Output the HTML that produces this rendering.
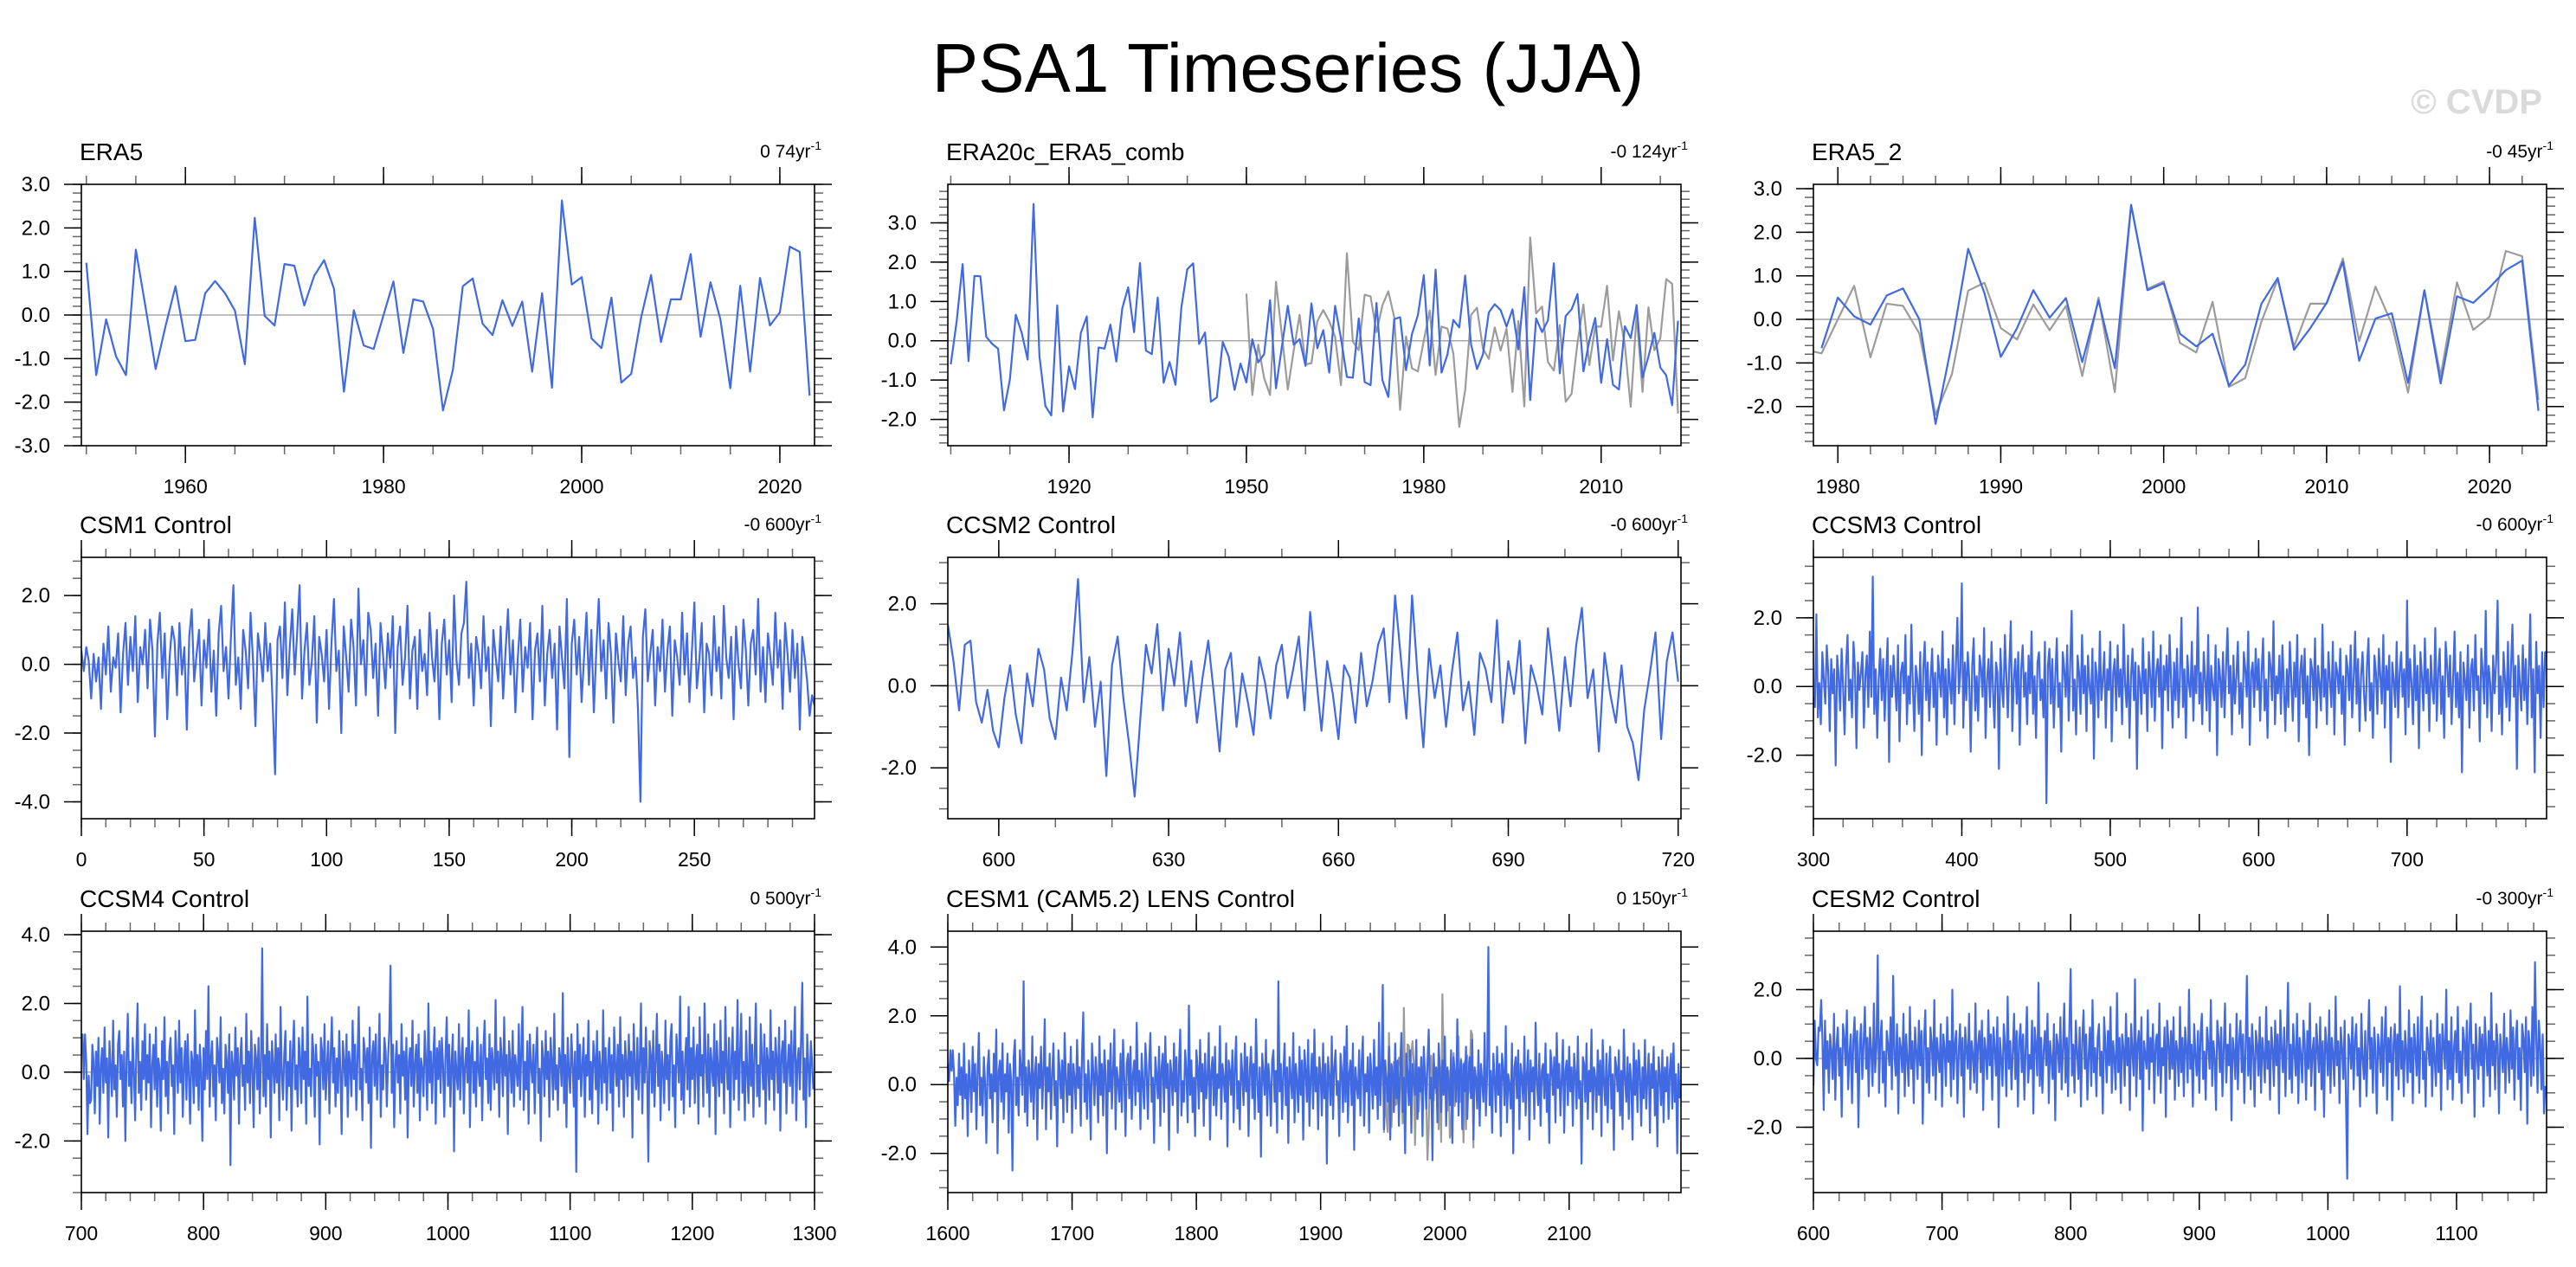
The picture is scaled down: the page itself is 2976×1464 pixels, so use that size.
<!DOCTYPE html>
<html>
<head>
<meta charset="utf-8">
<style>
html,body{margin:0;padding:0;background:#fff;}
svg{display:block;}
text{font-family:"Liberation Sans",Arial,sans-serif;}
</style>
</head>
<body>
<svg id="chart" xmlns="http://www.w3.org/2000/svg" width="2976" height="1464" viewBox="0 0 2976 1464">
<rect x="0" y="0" width="2976" height="1464" fill="#ffffff"/>
<text x="1488" y="106" text-anchor="middle" font-size="80" fill="#000">PSA1 Timeseries (JJA)</text>
<text x="2937" y="131" text-anchor="end" font-size="40" font-weight="bold" fill="#dadada">© CVDP</text>
<g id="panels"></g>
</svg>
<script>
// ---- data ----
const era5Start = 1950;
const era5Values = [1.2,-1.38,-0.1,-0.95,-1.38,1.5,0.15,-1.24,-0.25,0.66,-0.6,-0.57,0.5,0.78,0.5,0.1,-1.13,2.23,-0.02,-0.24,1.17,1.13,0.22,0.9,1.26,0.6,-1.76,0.11,-0.7,-0.78,0.0,0.77,-0.87,0.36,0.31,-0.32,-2.19,-1.26,0.66,0.84,-0.2,-0.46,0.34,-0.25,0.31,-1.3,0.5,-1.67,2.63,0.7,0.87,-0.54,-0.76,0.4,-1.55,-1.35,-0.05,0.92,-0.62,0.36,0.36,1.4,-0.5,0.75,-0.1,-1.68,0.67,-1.3,0.85,-0.24,0.06,1.57,1.45,-1.85];

const era20cStart = 1900;
const era20cValues = [-0.6,0.5,1.95,-0.52,1.65,1.64,0.1,-0.08,-0.2,-1.77,-0.98,0.66,0.2,-0.48,3.48,-0.4,-1.66,-1.9,0.9,-1.8,-0.65,-1.23,0.2,0.62,-1.95,-0.17,-0.2,0.41,-0.53,0.82,1.36,0.22,1.98,-0.25,-0.34,1.1,-1.07,-0.54,-1.12,0.85,1.82,1.97,-0.08,0.21,-1.55,-1.44,-0.03,-0.4,-1.25,-0.58,-1.06,0.04,-0.55,-0.34,1.03,-1.21,-0.15,0.89,-0.1,0.04,-0.64,0.95,-0.19,0.27,-0.81,0.89,0.05,-0.92,-0.94,0.57,-1.05,-1.13,0.96,-1.0,-1.43,0.55,0.6,-0.75,0.17,0.65,1.67,-0.63,1.81,-0.81,-0.35,0.53,0.34,1.66,-0.1,-0.72,-0.35,0.72,0.93,0.78,0.36,0.8,-0.22,1.36,-1.51,0.57,0.22,0.52,1.97,-0.83,0.63,0.8,1.19,-0.78,0.0,0.58,-1.07,0.04,-1.12,-1.24,0.37,0.07,0.91,-0.93,-0.4,0.2,-0.68,-0.88,-1.64,0.51];

const era5b2Start = 1979;
const era5b2Values = [-0.66,0.5,0.07,-0.12,0.55,0.71,0.0,-2.4,-0.55,1.62,0.6,-0.86,-0.2,0.67,0.04,0.49,-0.98,0.44,-1.12,2.63,0.67,0.83,-0.33,-0.62,-0.33,-1.52,-1.04,0.36,0.95,-0.7,-0.2,0.38,1.32,-0.95,0.02,0.14,-1.46,0.67,-1.47,0.53,0.38,0.73,1.13,1.35,-2.1];

const csm1Start = 0;
const csm1Values = [0.4,-0.2,0.5,0.1,-1.0,0.3,-0.5,0.2,-1.3,0.6,-0.3,1.1,-0.8,0.2,-0.1,0.9,-1.4,0.3,1.2,-0.6,
0.8,-0.2,1.4,-1.1,0.5,0.0,1.0,-0.7,1.3,0.4,-2.1,0.6,1.5,-0.4,0.9,-1.6,0.2,1.1,0.7,-0.9,
1.2,-0.3,0.5,-1.9,0.8,1.6,-0.5,0.3,1.0,-1.2,0.7,-0.1,1.3,-0.8,0.4,-1.5,0.9,1.7,-0.2,0.5,
-1.0,0.8,2.3,-0.6,0.2,-1.3,1.0,0.4,-0.7,1.5,0.1,-1.8,0.9,0.3,-0.5,1.2,-0.2,0.6,-1.1,-3.2,
0.7,1.1,-0.4,1.8,-0.9,0.5,1.6,-0.3,0.9,2.3,-1.0,0.4,1.2,-0.6,0.1,1.4,-1.7,0.8,0.3,-0.5,
1.0,-1.3,0.6,1.9,-0.2,0.4,-2.0,1.1,0.2,-0.8,1.3,0.5,-1.2,2.2,0.0,0.7,-0.9,1.5,1.0,-0.4,
0.6,-1.5,1.2,0.3,-0.7,0.9,-0.1,1.4,-2.0,0.5,1.1,-0.6,0.2,1.7,-1.0,0.4,0.8,-1.3,1.0,-0.2,
0.3,-0.9,1.5,0.2,-0.5,1.0,-1.6,0.6,1.3,-0.3,0.7,-1.1,2.0,0.1,-0.6,0.9,1.2,2.4,-0.4,0.6,
-1.2,0.8,0.3,-0.7,1.4,-0.2,0.5,-1.8,1.0,0.2,-0.5,1.1,-1.0,0.4,1.6,-0.3,0.7,-1.4,0.2,1.3,
-0.8,0.5,-0.1,1.2,-1.6,0.4,0.9,-0.5,1.7,-1.2,0.3,1.0,-0.4,0.6,-1.9,1.1,0.2,-0.7,1.9,-2.7,
0.6,1.3,-0.3,0.8,-1.1,0.2,1.5,-0.6,1.0,-1.4,0.4,1.9,-0.2,0.7,-1.0,1.2,0.3,-1.7,0.9,0.1,
-0.5,1.4,-0.9,0.6,1.1,-0.4,0.2,-1.3,-4.0,0.8,1.6,-0.5,0.3,1.0,-1.2,0.5,-0.2,1.3,-0.8,0.4,
1.1,-1.5,0.7,0.2,-0.6,1.5,-0.3,0.9,-1.1,0.4,1.8,-0.7,0.1,1.2,-1.4,0.6,0.3,-0.9,1.4,-0.2,
0.5,-1.0,1.7,0.2,-0.4,0.8,-1.6,1.1,0.0,-0.7,1.3,0.4,-1.2,0.6,1.0,-0.3,1.9,-0.8,0.5,-1.1,
0.9,0.2,-0.6,1.5,-0.1,0.7,-1.3,1.2,0.3,-0.8,1.0,-0.4,0.6,-1.9,0.8,0.2,-0.5,-1.5,-0.9,-1.2];

const ccsm2Start = 591;
const ccsm2Values = [1.5,0.6,-0.6,1.0,1.1,-0.4,-0.9,-0.1,-1.1,-1.5,-0.3,0.5,-0.7,-1.4,0.3,-0.5,0.9,0.4,-0.8,-1.3,
0.2,-0.6,0.8,2.6,-0.4,0.7,-1.0,0.1,-2.2,0.5,1.2,-0.3,-1.4,-2.7,-0.8,1.0,0.3,1.5,-0.6,0.9,
0.0,1.3,-0.5,0.6,-0.9,0.2,1.1,-0.2,-1.6,0.4,0.8,-1.0,0.3,-0.4,-1.2,0.7,0.1,-0.8,0.5,1.0,
-0.3,0.4,1.2,-0.6,1.8,0.3,-1.1,0.6,-0.2,-1.3,0.5,0.2,-0.9,0.8,-0.5,0.1,1.0,1.4,-0.4,2.2,
0.7,-0.8,2.2,0.2,-1.5,0.9,-0.3,0.5,-1.0,0.3,1.3,-0.6,0.1,-1.2,0.8,0.4,-0.4,1.6,-0.9,0.6,
-0.2,1.1,-1.4,0.5,0.0,-0.7,1.4,0.2,-1.1,0.7,-0.5,1.0,1.9,-0.3,0.4,-1.6,0.8,-0.2,-0.9,0.5,
-1.0,-1.4,-2.3,-0.6,0.3,1.3,-1.3,0.6,1.3,0.1];

const ccsm3Start = 300;
const ccsm3Values = [-0.3,-0.6,2.1,-0.9,0.1,-1.1,1.0,0.2,-0.5,1.2,0.4,-1.3,0.8,-0.2,0.5,-2.3,0.9,0.3,-0.7,1.1,
0.0,-1.4,0.6,1.5,-0.4,0.2,-0.9,1.3,0.5,-1.8,0.7,-0.1,0.4,1.0,-1.2,0.3,0.9,-0.6,1.6,-0.3,
3.2,-0.8,0.5,-1.5,0.2,1.1,-0.4,0.8,-1.0,0.3,1.4,-2.2,0.6,-0.3,0.9,0.1,-0.7,1.2,-1.6,0.4,
0.7,-0.2,1.5,-1.1,0.3,-0.5,1.8,0.0,-1.3,0.6,0.2,-0.8,1.0,-2.0,0.5,1.3,-0.4,0.7,-1.0,0.2,
1.1,-0.6,0.4,-1.7,0.9,0.3,-0.3,1.6,-0.9,0.5,-1.4,0.8,0.1,-0.5,1.2,-1.1,0.6,2.0,-0.2,0.4,
3.0,-1.2,0.7,-0.4,1.0,0.2,-1.9,0.6,1.4,-0.7,0.3,-1.0,0.9,0.5,-0.3,1.7,-1.5,0.2,0.8,-0.6,
1.3,-0.1,-1.2,0.7,0.4,-2.4,1.1,0.0,-0.6,1.5,0.3,-0.9,0.6,1.9,-1.3,0.2,0.8,-0.5,1.0,-1.7,
0.5,1.2,-0.3,0.4,-1.1,0.9,-0.2,1.6,-0.8,0.3,-1.5,0.7,1.0,-0.4,0.2,-0.9,1.3,-3.4,0.6,1.1,
-0.5,0.8,-1.2,0.3,1.4,-0.6,0.1,-1.9,1.0,0.5,-0.3,1.2,-1.0,0.6,2.2,-0.7,0.2,-1.4,0.9,0.4,
-0.8,1.5,-0.2,0.6,-1.3,0.9,0.0,-0.5,1.1,-2.1,0.7,0.3,-0.9,1.6,-0.4,0.2,1.0,-1.2,0.5,-0.1,
1.3,-1.6,0.4,0.8,-0.7,1.2,-0.3,0.5,-1.1,1.8,0.1,-0.6,0.9,-1.5,0.3,1.1,-0.4,0.7,-2.4,0.6,
0.2,-0.8,1.4,-0.2,0.5,-1.3,1.0,0.3,-0.6,1.6,-1.0,0.4,0.8,-0.3,1.2,-1.8,0.6,-0.1,0.9,-0.7,
1.5,0.2,-1.2,0.7,-0.4,1.1,-0.9,0.3,2.0,-0.6,0.5,-1.5,0.9,0.1,-0.3,1.3,-1.0,0.6,-0.2,2.3,
-0.5,0.4,-1.1,1.0,0.2,-0.7,1.5,-1.3,0.6,0.0,-0.4,1.2,-2.0,0.8,0.3,-0.6,1.0,-0.9,0.5,1.7,
-0.2,0.6,-1.4,0.9,-0.5,0.3,1.3,-0.8,0.1,-1.2,1.0,0.5,-0.3,1.6,-1.7,0.4,0.7,-0.6,1.1,-0.1,
0.8,-1.0,0.4,1.4,-0.7,0.2,-1.5,1.0,0.6,-0.4,1.9,-1.1,0.3,-0.2,0.9,-0.8,1.2,0.0,-1.3,0.5,
-0.6,1.3,0.2,-1.0,0.7,-0.3,1.5,-1.6,0.4,0.9,-0.5,1.1,-0.9,0.3,-2.0,0.8,0.5,-0.4,1.4,-1.2,
0.6,0.1,-0.7,1.8,-0.3,0.5,-1.1,1.0,0.2,-0.6,1.3,-1.4,0.7,0.4,-0.2,1.1,-0.8,0.3,-1.7,0.9,
0.5,-0.4,1.2,-0.9,0.2,1.6,-0.5,0.8,-1.3,0.3,1.0,-0.2,-1.0,0.6,1.4,-0.7,0.1,-1.5,0.9,0.4,
-0.8,1.1,0.3,-0.5,1.5,-1.2,0.6,-0.1,0.9,-2.2,0.7,0.2,-0.6,1.3,-0.9,0.4,1.0,-0.3,0.5,-1.4,
2.5,-0.6,0.8,0.1,-1.1,1.2,-0.4,0.6,-1.8,1.0,0.3,-0.7,1.4,-0.2,0.5,-1.3,0.9,0.0,-0.5,1.7,
-1.0,0.4,1.1,-0.8,0.3,-1.5,1.3,0.6,-0.3,0.9,-1.1,0.2,1.6,-0.6,0.4,-0.9,1.0,-2.5,0.7,0.2,
-0.4,1.2,-1.2,0.5,0.8,-0.7,1.5,-0.1,0.3,-1.6,1.1,0.4,-0.5,2.2,-0.9,0.6,0.1,-1.3,0.9,-0.2,
0.7,2.5,-0.8,0.3,-1.4,1.0,0.2,-0.6,1.3,-1.0,0.5,1.8,-0.3,0.6,-2.4,0.9,0.1,-0.7,1.2,-0.4,
0.8,-1.1,0.4,2.1,-0.9,0.5,-2.5,1.3,-0.2,0.6,-1.5,1.0,-0.6,1.0,1.0];

const ccsm4Start = 700;
const ccsm4Values = [0.5,1.1,-0.2,1.1,0.3,-1.8,-0.1,-0.9,-0.8,0.8,0.3,-1.2,0.6,-0.4,1.0,-1.5,0.2,0.7,-0.6,1.3,
-0.3,0.4,-1.9,0.9,0.1,-0.7,1.5,-0.5,0.2,-1.3,0.8,1.2,-0.2,0.5,-1.0,0.6,-2.0,0.4,1.7,-0.4,
0.3,-0.9,1.0,0.0,-1.4,0.7,2.0,-0.6,0.3,-1.1,0.9,-0.2,1.4,-0.8,0.5,-0.3,1.1,-1.6,0.2,0.8,
-0.5,1.3,-1.0,0.4,0.1,-1.7,0.9,-0.2,1.6,-0.7,0.3,-1.2,0.6,1.0,-0.4,0.2,-1.8,1.2,0.4,-0.6,
1.5,-0.3,0.7,-1.3,0.2,0.9,-0.8,1.1,-0.1,-1.5,0.6,0.3,-0.9,1.8,-0.4,0.5,-1.1,0.8,0.0,-2.0,
0.7,-0.5,1.2,-0.2,2.5,-1.0,0.4,0.9,-0.7,0.2,-1.4,1.0,0.5,-0.3,1.6,-0.9,0.1,-1.2,0.8,0.3,
-0.6,1.1,-2.7,0.6,0.2,-0.8,1.3,-0.1,0.7,-1.5,0.4,1.0,-0.4,0.2,-1.1,1.7,-0.3,0.6,-0.9,1.2,
0.1,-1.6,0.8,0.4,-0.5,1.0,-1.2,0.3,3.6,-0.7,0.5,-1.0,1.4,-0.2,0.6,-1.9,0.9,0.2,-0.6,1.1,
-0.3,0.7,-1.4,1.9,0.0,-0.8,0.5,1.2,-1.1,0.3,-0.4,0.9,-1.7,0.6,1.5,-0.5,0.2,-1.0,1.0,0.4,
-0.9,1.3,-0.2,0.6,-1.5,2.2,-0.4,0.1,-0.7,1.1,0.5,-1.3,0.8,-0.1,0.3,-2.1,1.0,0.6,-0.5,1.4,
-0.8,0.2,0.9,-1.2,0.5,1.6,-0.3,0.7,-1.0,0.4,-0.6,1.2,0.0,-1.8,0.9,0.3,-0.4,1.1,-1.3,0.6,
0.2,-0.7,1.5,-0.2,0.8,-1.1,0.4,1.9,-0.5,0.1,-1.4,1.0,0.6,-0.3,0.7,-0.9,1.3,-2.2,0.5,0.9,
-0.4,1.1,-0.8,0.3,1.7,-1.3,0.2,-0.5,1.0,0.6,-1.0,0.4,1.2,3.1,-0.6,0.8,-1.6,0.2,0.9,-0.3,
0.5,-1.2,1.4,-0.1,0.6,-0.8,1.0,-1.9,0.3,0.7,-0.4,1.5,-1.0,0.2,0.8,-0.6,1.1,-1.4,0.4,0.1,
-0.7,1.2,0.3,-1.1,2.0,-0.3,0.6,-0.9,0.4,1.3,-1.5,0.7,-0.2,0.9,-0.6,1.0,0.2,-1.3,0.5,1.6,
-0.4,0.8,-1.0,0.3,1.1,-2.3,0.6,0.0,-0.5,1.4,-0.8,0.4,1.0,-1.2,0.2,0.7,-0.3,1.8,-1.6,0.5,
0.9,-0.6,0.3,-1.0,1.3,0.1,-0.4,0.8,-1.4,0.6,1.5,-0.2,0.4,-0.9,1.1,-1.1,0.7,0.2,-0.5,2.1,
-0.3,0.6,-1.3,1.0,0.4,-0.7,1.6,-0.1,0.5,-1.8,0.9,0.3,-0.6,1.2,-1.0,0.5,0.1,-0.4,1.4,-0.8,
0.6,1.9,-1.1,0.3,-0.5,0.9,-1.5,1.1,0.2,-0.3,0.8,-1.2,0.5,1.3,-0.6,0.1,-2.0,0.9,0.4,-0.7,
1.2,-0.2,0.6,-1.3,1.0,0.3,-0.8,1.7,-0.5,0.2,-1.1,0.7,0.4,-0.4,2.3,-0.9,0.5,-1.6,1.0,0.0,
-0.6,1.1,0.3,-1.0,0.6,-2.9,1.4,-0.2,0.8,-0.7,0.2,1.0,-1.3,0.5,-0.1,1.5,-0.8,0.3,-1.2,0.9,
0.4,-0.5,1.2,-1.5,0.6,0.1,-0.9,1.8,-0.3,0.7,-1.1,0.3,1.0,-0.6,0.5,-1.7,1.3,0.2,-0.4,0.8,
-1.0,1.6,-0.2,0.5,-1.3,0.9,0.3,-0.7,1.1,-0.1,0.6,-1.9,1.4,0.2,-0.5,1.0,-0.8,0.4,2.0,-1.2,
0.7,-0.3,1.3,0.0,-2.6,0.9,0.5,-0.6,1.2,-1.0,0.3,1.7,-0.4,0.8,-1.4,0.6,0.1,-0.9,1.5,-0.2,
0.5,-1.1,0.9,1.4,-0.7,0.2,-1.6,1.1,0.4,-0.3,2.2,-0.8,0.6,-1.2,0.3,1.0,-0.5,1.9,-1.0,0.7,
-0.2,1.3,-0.9,0.4,0.8,-1.5,1.6,-0.1,0.5,-1.0,2.0,0.3,-0.6,1.1,-1.3,0.7,0.2,-0.4,1.4,-1.8,
0.9,0.1,-0.7,1.5,-0.3,0.6,-1.2,1.9,0.2,-0.5,1.0,-1.6,0.4,1.3,-0.8,0.6,-0.2,2.1,-1.1,0.5,
1.7,-0.6,0.3,-1.4,1.2,0.0,-0.9,1.6,-0.4,0.8,-1.3,0.5,2.0,-0.7,0.2,-1.0,1.4,0.4,-0.5,1.1,
-1.5,0.7,0.3,-0.8,1.8,-0.2,0.6,-1.1,1.0,0.4,-0.6,1.3,-1.7,0.5,0.9,-0.3,1.5,-1.2,0.2,0.8,
-0.4,1.2,-0.9,0.6,1.9,-1.4,0.3,0.7,-0.5,1.0,2.6,-0.8,0.4,-1.6,1.1,0.2,-0.7,0.9,0.3,-0.5];

const cesm1Start = 1600;
const cesm1Values = [0.6,0.1,1.0,0.4,1.0,0.3,-1.2,0.2,-0.6,0.9,-0.3,0.5,-1.0,1.2,-0.4,0.3,-1.5,0.7,0.1,-0.8,
1.1,-0.2,0.6,-1.3,0.4,1.5,-0.6,0.2,-0.9,0.8,0.0,-1.7,0.5,1.0,-0.4,0.3,-1.1,0.9,-0.2,1.6,
-2.0,0.4,0.7,-0.5,1.2,-1.0,0.3,-0.2,0.9,-1.4,0.6,0.1,-2.5,0.8,1.3,-0.6,0.2,-0.9,1.0,0.4,
-0.3,3.0,-0.8,0.5,-1.2,0.7,0.2,-0.5,1.4,-1.0,0.3,0.8,-1.6,0.6,-0.1,1.1,-0.7,0.4,1.9,-1.3,
0.5,-0.2,0.9,-1.0,0.3,1.2,-0.6,0.1,-1.8,1.0,0.4,-0.4,0.7,-1.1,1.5,0.2,-0.8,0.6,-0.3,1.1,
-1.4,0.6,0.2,-0.7,1.3,-0.1,0.5,-1.2,0.9,2.1,-0.5,0.3,-1.0,0.7,0.0,-1.6,1.2,0.4,-0.6,0.8,
0.2,-1.1,1.4,-0.3,0.6,-0.9,1.0,0.3,-2.0,0.7,-0.2,1.2,-0.7,0.4,1.6,-1.3,0.5,0.1,-0.5,0.9,
-0.8,1.3,0.2,-1.5,0.6,0.9,-0.4,1.1,-1.0,0.3,0.7,-0.6,1.8,-0.2,0.4,-1.3,0.9,0.0,-0.7,1.2,
0.4,-1.0,0.6,1.5,-0.5,0.2,-1.7,0.8,0.3,-0.4,1.1,-1.2,0.5,0.9,-0.8,1.4,-0.1,0.6,-1.9,0.7,
0.3,-0.6,1.2,-0.2,0.8,-1.4,0.5,1.6,-0.9,0.1,-0.5,1.0,0.4,-1.1,2.3,-0.3,0.7,-0.8,0.2,-1.5,
1.0,0.5,-0.7,1.3,-0.2,0.6,-1.2,0.9,-0.4,0.2,1.5,-1.6,0.4,0.8,-0.6,1.1,-0.9,0.3,-0.1,1.7,
-1.0,0.6,0.2,-0.5,1.2,-1.8,0.7,0.4,-0.3,1.0,-1.1,0.5,1.4,-0.7,0.1,-1.3,0.9,0.3,-0.6,1.2,
-0.2,0.8,-1.5,0.4,1.1,-0.4,0.6,-1.0,1.9,0.2,-0.8,0.5,-2.1,0.9,0.3,-0.3,1.3,-0.9,0.6,0.0,
-1.2,0.7,1.0,-0.5,0.4,-1.4,3.0,-0.2,0.6,-1.0,0.3,1.2,-0.6,0.5,-1.7,0.8,0.2,-0.4,1.5,-1.1,
0.6,0.1,-0.8,1.1,-0.3,0.7,-1.6,1.0,0.4,-0.5,1.3,-1.2,0.2,0.9,-0.7,1.6,-0.2,0.5,-1.3,0.8,
0.3,-0.9,1.2,-0.4,0.6,-2.3,0.8,0.2,-0.6,1.4,-1.0,0.5,1.0,-0.3,0.1,-1.5,0.9,0.4,-0.8,1.1,
-0.5,1.7,-1.1,0.3,0.7,-0.6,1.2,-1.9,0.5,0.0,-0.4,1.0,-0.9,0.6,1.4,-1.2,0.3,-0.2,0.8,-1.4,
0.9,0.2,-0.7,1.3,-0.3,0.5,-1.0,1.8,-0.6,0.4,2.9,-1.3,0.7,0.1,-0.5,1.1,-1.6,0.6,0.3,-0.8,
1.2,-0.4,0.7,-1.2,0.5,1.5,-0.8,0.2,-2.0,0.9,0.4,-0.6,1.0,-1.4,0.6,0.1,-0.3,1.3,-1.0,0.5,
-0.2,0.8,-1.5,1.1,0.3,-0.7,0.6,1.6,-0.4,0.2,-2.2,0.9,-0.1,0.5,-1.1,1.2,0.4,-0.8,0.7,-0.3,
1.4,-1.2,0.5,0.0,-0.6,1.0,-1.7,0.8,0.3,-0.5,1.9,-0.9,0.4,0.7,-1.3,0.6,-0.2,1.1,-1.0,0.3,
0.8,-0.4,1.3,-1.6,0.5,0.2,-0.7,1.0,-1.2,0.6,0.1,-0.5,1.5,-0.9,0.3,4.0,-0.6,0.4,-1.4,0.9,
0.2,-0.8,1.1,-0.3,0.6,-1.5,0.9,0.4,-0.6,1.7,-1.1,0.3,0.0,-0.7,1.2,-2.0,0.5,0.8,-0.4,1.0,
-1.3,0.6,0.2,-0.5,1.4,-0.9,0.3,1.0,-1.6,0.7,-0.2,0.5,-1.0,1.8,0.1,-0.6,0.9,-1.2,0.4,0.6,
-0.4,1.2,-0.8,0.3,-1.7,1.0,0.5,-0.3,0.8,-1.1,1.5,-0.1,0.6,-0.9,0.2,1.3,-1.4,0.4,0.7,-0.6,
1.1,-0.2,0.5,-1.2,0.9,0.3,-0.7,1.4,-0.4,0.1,-2.3,0.8,0.6,-0.5,1.2,-1.0,0.4,-0.2,1.6,-1.3,
0.5,0.2,-0.8,1.0,-0.3,0.7,-1.5,1.3,0.1,-0.6,0.9,-1.1,0.4,1.1,-0.7,0.3,-1.9,0.8,0.5,-0.2,
1.0,-0.9,0.4,-1.3,1.6,0.2,-0.5,0.8,-1.0,0.6,0.1,-1.6,1.2,-0.3,0.7,-0.8,1.0,0.3,-1.2,0.5,
-0.4,1.3,-0.7,0.2,0.9,-1.4,0.6,-0.1,1.1,-0.9,0.4,-1.8,0.8,0.3,-0.6,1.0,-1.1,0.5,-0.2,0.8,
-1.0,0.4,0.9,-0.7,1.2,-0.5,0.3,-2.0,0.6,-0.4];

const cesm2Start = 600;
const cesm2Values = [-0.8,1.1,0.0,-0.2,0.9,0.8,1.7,0.6,-1.5,1.1,-0.3,0.5,-1.0,0.7,0.2,-0.6,1.3,-1.2,0.4,0.9,
-0.5,0.3,-1.7,1.0,0.6,-0.2,1.4,-0.9,0.1,0.7,-1.3,0.5,1.2,-0.4,0.8,-2.0,0.3,1.0,-0.6,0.4,
1.5,-0.3,0.6,-1.1,0.9,0.2,-0.8,1.6,-0.4,0.3,3.0,-1.0,0.5,1.1,-0.7,0.2,-1.4,0.8,0.4,-0.2,
1.2,-0.9,2.4,0.1,-0.5,1.0,-1.6,0.6,0.3,-0.4,1.3,-1.1,0.7,0.0,-0.8,1.5,-0.3,0.5,-1.3,0.9,
0.2,-0.6,1.1,-0.2,0.8,-1.9,0.5,1.4,-0.7,0.3,-1.0,0.9,0.4,-0.5,1.7,-1.2,0.6,0.1,-0.4,1.0,
-1.4,0.7,0.3,-0.8,1.2,-0.1,0.5,-1.1,2.0,-0.6,0.4,0.8,-1.3,0.2,1.0,-0.5,0.6,-1.7,0.9,0.3,
-0.3,1.3,-0.9,0.5,0.1,-0.7,1.6,-1.0,0.4,0.8,-0.4,1.1,-1.5,0.6,0.2,-0.6,1.4,-0.2,0.7,-1.2,
0.9,0.3,-0.5,1.2,-2.0,0.6,0.0,-0.8,1.0,0.4,-1.1,1.8,-0.3,0.5,-0.9,0.2,1.3,-0.6,0.8,-1.4,
0.5,1.0,-0.4,0.7,-1.2,0.3,1.5,-0.7,0.1,-0.3,1.1,-1.6,0.9,0.4,-0.5,2.2,-0.8,0.6,-1.0,0.2,
0.8,-0.2,1.3,-1.3,0.5,0.0,-0.6,1.0,-1.8,0.7,0.4,-0.4,1.2,-0.9,0.3,1.6,-0.7,0.6,-1.1,0.9,
2.6,-0.5,0.4,-1.0,1.1,0.2,-0.6,0.9,-1.4,0.5,1.4,-0.3,0.7,-1.2,0.1,0.9,-0.8,1.7,-0.4,0.3,
-1.1,0.6,1.0,-0.5,0.2,-1.6,1.2,0.4,-0.7,0.8,-0.2,1.5,-1.0,0.5,0.0,-0.9,1.9,-0.4,0.6,-1.3,
0.7,0.3,-0.8,1.3,-0.2,0.6,-1.5,1.0,0.2,-0.5,2.3,-1.1,0.4,0.8,-0.6,1.2,-2.1,0.5,0.1,-0.3,
1.4,-0.9,0.6,-0.1,1.0,-1.3,0.4,0.7,-0.5,1.6,-1.0,0.3,-0.2,0.9,-1.7,1.1,0.5,-0.6,0.8,-0.3,
1.2,-1.2,0.5,0.2,-0.8,1.5,-0.4,0.6,-1.1,0.9,0.3,-0.7,2.0,-0.3,0.4,-1.4,1.0,0.1,-0.5,0.8,
-1.0,0.7,1.3,-0.6,0.2,-1.2,0.9,0.4,-0.3,1.7,-0.8,0.5,0.0,-1.5,1.1,0.6,-0.4,0.9,-1.1,0.3,
1.6,-0.7,0.4,-0.2,1.0,-1.8,0.6,0.2,-0.6,1.3,-0.9,0.5,1.1,-0.4,0.7,-1.3,0.3,2.4,-0.5,0.6,
-0.9,1.0,0.2,-1.4,0.8,0.4,-0.5,1.2,-1.0,0.6,0.1,-0.7,1.5,-0.3,0.5,-1.2,0.9,0.3,-0.8,1.1,
-0.2,0.7,-1.6,1.4,0.3,-0.4,0.9,-1.1,0.5,2.2,-0.6,0.4,-1.0,1.0,0.2,-0.5,1.3,-1.3,0.6,0.1,
-0.7,1.1,0.4,-1.2,0.8,-0.3,1.6,-0.8,0.2,0.6,-1.5,1.0,0.3,-0.4,1.2,-0.9,0.5,-1.7,0.9,0.4,
-0.5,1.4,-1.0,0.6,0.1,-0.8,1.8,-0.2,0.5,-1.3,0.9,0.3,-0.6,1.1,-1.1,-3.5,0.7,0.4,-0.3,1.2,
-0.9,0.5,1.0,-0.5,0.3,-1.4,1.3,0.0,-0.6,0.8,-1.1,0.4,1.7,-0.3,0.6,-1.0,0.9,0.2,-1.6,0.7,
0.3,-0.4,1.2,-0.8,0.5,1.5,-1.2,0.6,-0.1,0.9,-1.8,0.4,1.0,-0.5,0.7,-0.9,2.1,-0.3,0.5,-1.1,
0.8,0.2,-0.7,1.4,-0.4,0.6,-1.3,1.0,0.3,-0.5,1.2,-1.0,0.5,1.8,-0.6,0.2,-1.4,0.9,0.4,-0.2,
1.1,-1.1,0.6,0.0,-0.8,1.3,-0.4,0.7,-1.5,1.0,0.4,-0.3,2.0,-0.9,0.5,-0.6,1.2,-1.2,0.3,0.8,
-0.4,1.5,-0.7,0.2,-1.3,0.9,0.5,-0.5,1.1,-1.0,0.6,1.6,-0.3,0.4,-1.7,1.0,0.1,-0.6,0.9,-0.2,
0.7,-1.4,1.2,0.3,-0.5,0.8,-1.1,1.9,-0.2,0.5,-0.9,1.0,0.4,-1.6,0.7,0.2,-0.4,1.3,-1.0,0.6,
0.1,-0.7,1.4,-0.3,0.9,-1.2,0.5,1.1,-0.6,0.3,-1.5,1.0,0.6,-0.4,1.2,-1.9,0.8,0.3,-0.8,1.5,
-0.5,2.8,0.6,-1.0,1.1,0.4,-0.9,0.7,-1.6,-0.8];

const panelTitles = ["ERA5","ERA20c_ERA5_comb","ERA5_2","CSM1 Control","CCSM2 Control","CCSM3 Control","CCSM4 Control","CESM1 (CAM5.2) LENS Control","CESM2 Control"];
const trendLabels = ["0 74yr","-0 124yr","-0 45yr","-0 600yr","-0 600yr","-0 600yr","0 500yr","0 150yr","-0 300yr"];

// ---- layout (not data) ----
const colX = [94, 1095, 2095];
const rowY = [213, 644, 1076];
const BW = 847, BH = 302;
const BLUE = "#4169e1", GRAY = "#9b9b9b";

const panels = [
 {name:"era5", blue:[era5Start, era5Values], gray:null, xr:[1949.5,2023.5], yr:[-3,3], xMaj:20, xMajStart:1960, xMin:5, yMaj:1, yMin:0.2},
 {name:"era20c-era5-comb", blue:[era20cStart, era20cValues], gray:[era5Start, era5Values], xr:[1899.5,2023.5], yr:[-2.67,3.98], xMaj:30, xMajStart:1920, xMin:10, yMaj:1, yMin:0.2},
 {name:"era5-2", blue:[era5b2Start, era5b2Values], gray:[era5Start, era5Values], xr:[1978.5,2023.5], yr:[-2.9,3.1], xMaj:10, xMajStart:1980, xMin:2, yMaj:1, yMin:0.2},
 {name:"csm1-control", blue:[csm1Start, csm1Values], gray:null, xr:[0,299], yr:[-4.49,3.11], xMaj:50, xMajStart:0, xMin:10, yMaj:2, yMin:0.5},
 {name:"ccsm2-control", blue:[ccsm2Start, ccsm2Values], gray:null, xr:[591,720.5], yr:[-3.24,3.13], xMaj:30, xMajStart:600, xMin:10, yMaj:2, yMin:0.5},
 {name:"ccsm3-control", blue:[ccsm3Start, ccsm3Values], gray:null, xr:[300,794], yr:[-3.85,3.76], xMaj:100, xMajStart:300, xMin:20, yMaj:2, yMin:0.5},
 {name:"ccsm4-control", blue:[ccsm4Start, ccsm4Values], gray:null, xr:[700,1300], yr:[-3.5,4.1], xMaj:100, xMajStart:700, xMin:20, yMaj:2, yMin:0.5},
 {name:"cesm1-lens-control", blue:[cesm1Start, cesm1Values], gray:[era5Start, era5Values], xr:[1600,2190], yr:[-3.14,4.46], xMaj:100, xMajStart:1600, xMin:20, yMaj:2, yMin:0.5},
 {name:"cesm2-control", blue:[cesm2Start, cesm2Values], gray:null, xr:[600,1170], yr:[-3.9,3.7], xMaj:100, xMajStart:600, xMin:20, yMaj:2, yMin:0.5}
];

const NS = "http://www.w3.org/2000/svg";
function mk(tag, attrs){ const e = document.createElementNS(NS, tag); for (const k in attrs) e.setAttribute(k, attrs[k]); return e; }
const root = document.getElementById("panels");
const defs = mk("defs", {});
root.appendChild(defs);

panels.forEach((p, i) => {
  const bx = colX[i % 3], by = rowY[Math.floor(i / 3)];
  const sx = v => bx + (v - p.xr[0]) / (p.xr[1] - p.xr[0]) * BW;
  const sy = v => by + BH - (v - p.yr[0]) / (p.yr[1] - p.yr[0]) * BH;
  const g = mk("g", {});
  
  
  root.appendChild(g);

  const cp = mk("clipPath", {id: "clip" + i});
  cp.appendChild(mk("rect", {x: bx, y: by, width: BW, height: BH}));
  defs.appendChild(cp);

  const t = mk("text", {x: bx - 2, y: by - 28, "font-size": 28, fill: "#000"});
  t.textContent = panelTitles[i];
  
  
  g.appendChild(t);
  const tr = mk("text", {x: bx + BW + 8, y: by - 31, "font-size": 21, fill: "#000", "text-anchor": "end"});
  tr.textContent = trendLabels[i];
  const sup = mk("tspan", {"font-size": 14, dy: -9});
  sup.textContent = "-1";
  tr.appendChild(sup);
  
  
  g.appendChild(tr);

  const tk = mk("g", {stroke: "#000", "stroke-width": 1.5});
  
  
  g.appendChild(tk);
  const eps = 1e-6;
  for (let v = Math.ceil(p.xr[0] / p.xMin - eps) * p.xMin; v <= p.xr[1] + eps; v += p.xMin) {
    const x = sx(v);
    tk.appendChild(mk("line", {x1: x, y1: by + BH, x2: x, y2: by + BH + 10, stroke: "#666"}));
    tk.appendChild(mk("line", {x1: x, y1: by, x2: x, y2: by - 10, stroke: "#666"}));
  }
  for (let v = p.xMajStart; v <= p.xr[1] + eps; v += p.xMaj) {
    const x = sx(v);
    tk.appendChild(mk("line", {x1: x, y1: by + BH, x2: x, y2: by + BH + 20}));
    tk.appendChild(mk("line", {x1: x, y1: by, x2: x, y2: by - 20}));
    const lb = mk("text", {x: x, y: by + BH + 55, "font-size": 23, "text-anchor": "middle", fill: "#000"});
    lb.textContent = String(Math.round(v));
    
    
    g.appendChild(lb);
  }
  for (let v = Math.ceil(p.yr[0] / p.yMin - eps) * p.yMin; v <= p.yr[1] + eps; v += p.yMin) {
    const y = sy(v);
    tk.appendChild(mk("line", {x1: bx, y1: y, x2: bx - 10, y2: y, stroke: "#666"}));
    tk.appendChild(mk("line", {x1: bx + BW, y1: y, x2: bx + BW + 10, y2: y, stroke: "#666"}));
  }
  for (let v = Math.ceil(p.yr[0] / p.yMaj - eps) * p.yMaj; v <= p.yr[1] + eps; v += p.yMaj) {
    const y = sy(v);
    tk.appendChild(mk("line", {x1: bx, y1: y, x2: bx - 20, y2: y}));
    tk.appendChild(mk("line", {x1: bx + BW, y1: y, x2: bx + BW + 20, y2: y}));
    const lb = mk("text", {x: bx - 36, y: y + 8, "font-size": 24, "text-anchor": "end", fill: "#000"});
    lb.textContent = (Math.abs(v) < 1e-9 ? 0 : v).toFixed(1);
    
    
    g.appendChild(lb);
  }

  const z = mk("line", {x1: bx, y1: sy(0), x2: bx + BW, y2: sy(0), stroke: "#a8a8a8", "stroke-width": 1.5});
  
  
  g.appendChild(z);

  const series = (arr, color, nm) => {
    const [start, vals] = arr;
    const pts = vals.map((v, k) => sx(start + k).toFixed(2) + "," + sy(v).toFixed(2)).join(" ");
    const pl = mk("polyline", {points: pts, fill: "none", stroke: color, "stroke-width": 2.2, "stroke-linejoin": "round", "clip-path": "url(#clip" + i + ")"});
    
    
    return pl;
  };
  if (p.gray) g.appendChild(series(p.gray, GRAY, 'observed-series-line'));
  g.appendChild(series(p.blue, BLUE, 'psa1-series-line'));

  const box = mk("rect", {x: bx, y: by, width: BW, height: BH, fill: "none", stroke: "#000", "stroke-width": 1.6});
  
  
  g.appendChild(box);
});
</script>
</body>
</html>
